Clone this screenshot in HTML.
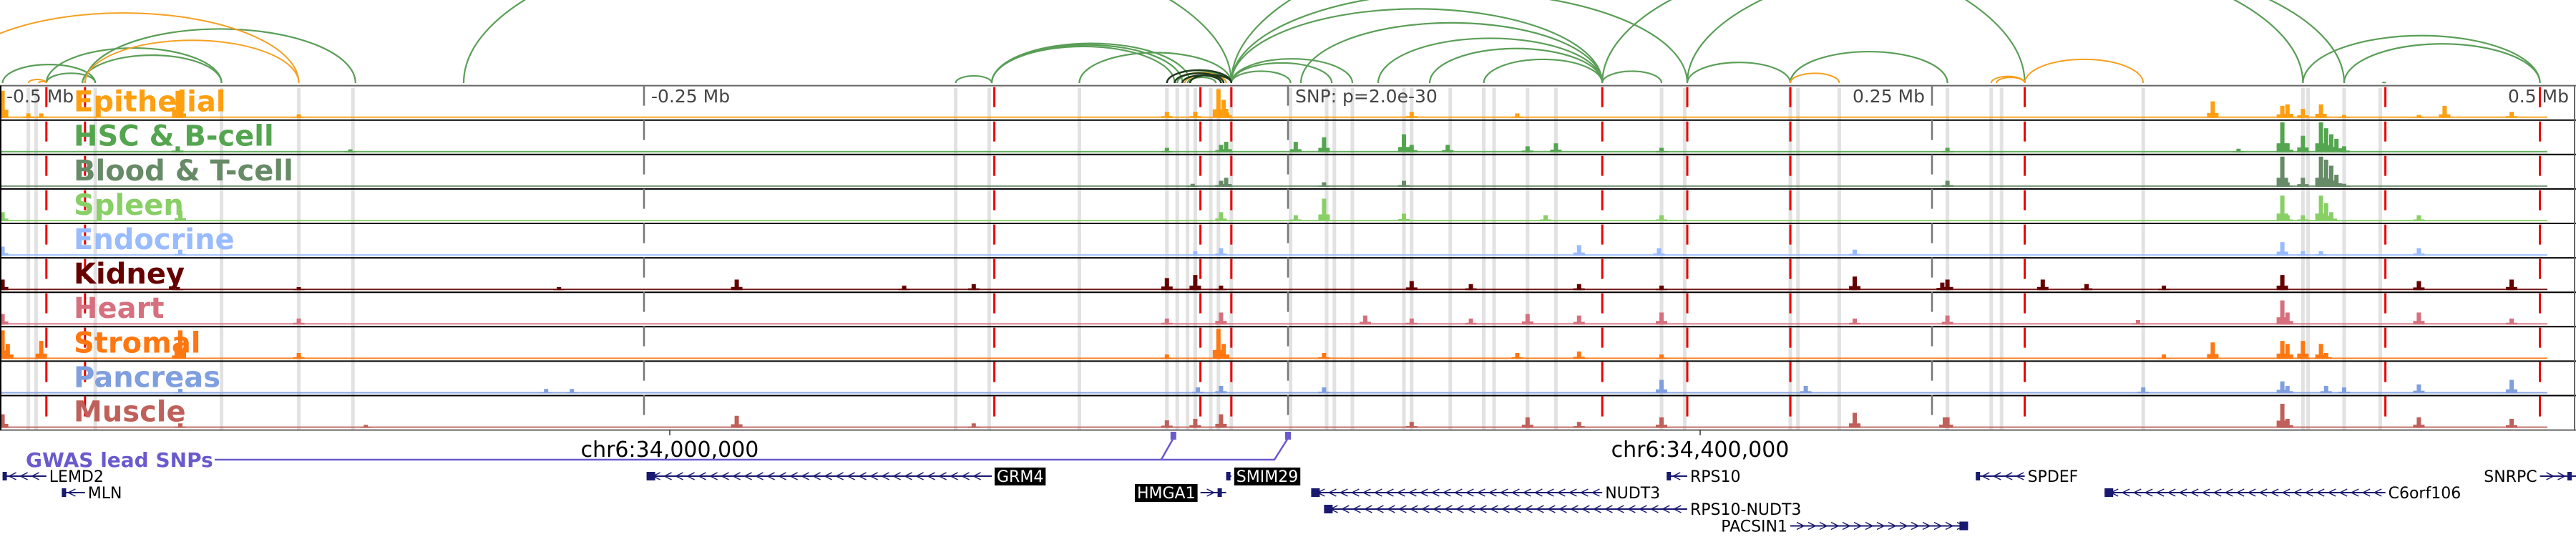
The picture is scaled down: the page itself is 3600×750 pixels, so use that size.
<!DOCTYPE html>
<html><head><meta charset="utf-8"><style>
html,body{margin:0;padding:0;background:#fff;}
svg{display:block;font-family:"DejaVu Sans","Liberation Sans",sans-serif;}
</style></head><body>
<svg id="chart" width="3600" height="750" viewBox="0 0 3600 750" xmlns="http://www.w3.org/2000/svg">
<g id="bands"></g>
<g id="arcs"></g>
<g id="tracks"></g>
<g id="vlines"></g>
<g id="labels"></g>
<g id="axis"></g>
<g id="genes"></g>
</svg>
<script>
// ---- data (positions in kb relative to lead SNP) ----
const trackNames = ["Epithelial","HSC & B-cell","Blood & T-cell","Spleen","Endocrine","Kidney","Heart","Stromal","Pancreas","Muscle"];
const trackColors = ["#ff9f10","#54a54f","#678a67","#88cf66","#99bbff","#660000","#d6707e","#ff7711","#7f9fdf","#c0605a"];
const peaksEpithelial = [[-499,0.9],[-489,0.15],[-484,0.15],[-431,0.9],[-430,0.5],[-384,0.12],[-47,0.2],[-36,0.2],[-27,0.95],[-25,0.6],[-24,0.3],[48,0.2],[89,0.15],[359,0.55],[386,0.4],[388,0.45],[394,0.3],[401,0.45],[410,0.1],[439,0.1],[449,0.4],[475,0.2]];
const peaksHSC = [[-431,0.2],[-364,0.1],[-47,0.15],[-26,0.25],[-24,0.35],[3,0.35],[14,0.5],[45,0.6],[48,0.25],[62,0.25],[93,0.2],[104,0.3],[145,0.15],[256,0.15],[369,0.12],[386,1.0],[388,0.3],[394,0.55],[401,1.0],[403,0.8],[405,0.6],[407,0.45],[410,0.2]];
const peaksBlood = [[-37,0.1],[-26,0.2],[-24,0.3],[14,0.15],[45,0.2],[256,0.2],[386,1.0],[388,0.15],[394,0.3],[401,1.0],[403,0.9],[405,0.7],[407,0.4],[410,0.1]];
const peaksSpleen = [[-499,0.3],[-430,0.35],[-26,0.3],[3,0.2],[14,0.75],[45,0.25],[100,0.2],[145,0.2],[386,0.85],[388,0.2],[394,0.2],[401,0.85],[403,0.6],[405,0.3],[439,0.2]];
const peaksEndocrine = [[-499,0.3],[-430,0.2],[-36,0.15],[-26,0.25],[113,0.35],[144,0.25],[220,0.2],[386,0.45],[394,0.15],[401,0.15],[439,0.25]];
const peaksKidney = [[-499,0.35],[-431,0.1],[-384,0.1],[-283,0.1],[-214,0.35],[-149,0.15],[-122,0.2],[-47,0.4],[-36,0.5],[-26,0.15],[48,0.3],[71,0.2],[113,0.2],[145,0.15],[220,0.45],[254,0.25],[256,0.35],[293,0.35],[310,0.2],[340,0.15],[386,0.5],[439,0.3],[475,0.35]];
const peaksHeart = [[-499,0.35],[-384,0.2],[-47,0.2],[-26,0.4],[30,0.3],[48,0.2],[71,0.2],[93,0.35],[113,0.3],[145,0.4],[220,0.2],[256,0.3],[330,0.15],[386,0.8],[388,0.4],[439,0.4],[475,0.2]];
const peaksStromal = [[-499,0.95],[-497,0.5],[-484,0.6],[-431,0.4],[-430,0.95],[-384,0.2],[-47,0.15],[-27,1.0],[-25,0.5],[14,0.2],[89,0.2],[113,0.25],[145,0.15],[340,0.15],[359,0.55],[386,0.6],[388,0.5],[394,0.6],[401,0.5],[403,0.2]];
const peaksPancreas = [[-430,0.15],[-288,0.15],[-278,0.15],[-35,0.2],[-26,0.25],[14,0.2],[145,0.45],[201,0.25],[332,0.2],[386,0.4],[388,0.25],[403,0.25],[410,0.2],[439,0.3],[475,0.45]];
const peaksMuscle = [[-499,0.45],[-430,0.15],[-358,0.1],[-214,0.4],[-122,0.15],[-47,0.25],[-36,0.3],[-26,0.45],[48,0.2],[93,0.35],[113,0.2],[145,0.35],[220,0.5],[255,0.35],[256,0.35],[386,0.8],[388,0.3],[439,0.35],[475,0.3]];
const allPeaks = [peaksEpithelial,peaksHSC,peaksBlood,peaksSpleen,peaksEndocrine,peaksKidney,peaksHeart,peaksStromal,peaksPancreas,peaksMuscle];
const snpLinesKb = [-482,-467,-114,-34,-22,122,155,195,286,426,486];
const bandKb = [-489,-486,-463,-414,-384,-363,-129,-116,-81,-47,-43,-39,-36,-30,-27,-22,1,15,18,25,45,48,63,76,80,93,104,145,154,195,198,214,256,273,277,332,394,396,410,424];
const tickKb = [-500,-250,0,250,500];
const tickLabels = ["-0.5 Mb","-0.25 Mb","SNP: p=2.0e-30","0.25 Mb","0.5 Mb"];
const coordKb = [-240,160];
const coordLabels = ["chr6:34,000,000","chr6:34,400,000"];
const gwasKb = [-44.5,0];
const arcsGreen = [[-499,-463],[-482,-463],[-468,-414],[-482,-414],[-467,-362],[-129,-115],[-115,-44],[-115,-41],[-115,-38],[-81,-22],[-47,-22],[-43,-22],[-39,-28],[-22,1],[-22,17],[-22,25],[-22,122],[-22,155],[-22,286],[5,122],[35,122],[55,122],[76,122],[122,145],[122,394],[155,195],[155,410],[195,256],[394,486],[410,486],[425,426],[-320,-22]];
const arcsOrange = [[-520,-384],[-489,-482],[-485,-482],[-467,-384],[-47,-22],[-44,-24],[-40,-25],[195,214],[273,286],[275,286],[286,332]];
const arcsDark = [[-47,-22],[-44,-25],[-41,-26],[-38,-22]];
const geneNames = ["LEMD2","MLN","GRM4","HMGA1","SMIM29","NUDT3","RPS10-NUDT3","RPS10","PACSIN1","SPDEF","C6orf106","SNRPC"];
const geneStartKb = [-499,-476,-249,-34,-24,9,14,147,195,267,317,486];
const geneEndKb = [-482,-467,-115,-24,-22,122,155,155,264,286,426,500];
const geneRow = [0,1,0,1,0,1,2,0,3,0,1,0];
const geneStrand = [-1,-1,-1,1,-1,-1,-1,-1,1,-1,-1,1];
const geneHighlight = [0,0,1,1,1,0,0,0,0,0,0,0];
const geneLabelSide = [1,1,1,-1,1,1,1,1,-1,1,1,-1];
</script>
<script>
const NS="http://www.w3.org/2000/svg";
const X = kb => 1800 + kb*3.6;
const T0 = 119.6, TH = 48.1, AB = 116;
function mk(tag, attrs, parent){const e=document.createElementNS(NS,tag);for(const k in attrs)e.setAttribute(k,attrs[k]);parent.appendChild(e);return e;}
const gB=document.getElementById('bands'),gA=document.getElementById('arcs'),gT=document.getElementById('tracks'),gV=document.getElementById('vlines'),gL=document.getElementById('labels'),gX=document.getElementById('axis'),gG=document.getElementById('genes');

bandKb.forEach(k=>{
  const r=mk('rect',{x:X(k)-2.5,y:T0+3,width:5,height:TH*10-3,fill:'#e2e2e2'},gB);
  
  
});

function drawArcs(list,color,w){
  list.forEach(a=>{
    const x1=X(a[0]),x2=X(a[1]),span=x2-x1,h=span*0.2;
    const p=mk('path',{d:`M${x1},${AB} A${span/2},${h} 0 0 1 ${x2},${AB}`,fill:'none',stroke:color,'stroke-width':w},gA);
    
    
  });
}
drawArcs(arcsGreen,'#5a9e57',2.2);
drawArcs(arcsOrange,'#f5a020',2);
drawArcs(arcsDark,'#1e3a1e',2.5);

allPeaks.forEach((peaks,i)=>{
  const top=T0+i*TH, base=top+TH-3, col=trackColors[i];
  const g=mk('g',{},gT);
  
  
  mk('rect',{x:0,y:base-2,width:3560,height:2,fill:col,opacity:0.9},g);
  peaks.forEach(p=>{
    const h=p[1]*(TH-6);
    const r=mk('rect',{x:X(p[0])-3,y:base-h,width:6,height:h,fill:col},g);
    
    
    mk('rect',{x:X(p[0])-8,y:base-h*0.3,width:16,height:h*0.3,fill:col},g);
  });
  const ln=mk('line',{x1:0,x2:3600,y1:top,y2:top,stroke:i==0?'#666':'#000','stroke-width':2},g);
  
  
});
mk('line',{x1:0,x2:3600,y1:T0+10*TH,y2:T0+10*TH,stroke:'#666','stroke-width':2},gT);
mk('line',{x1:1,x2:1,y1:T0,y2:T0+10*TH,stroke:'#000','stroke-width':2},gT);
mk('line',{x1:3598,x2:3598,y1:T0,y2:T0+10*TH,stroke:'#666','stroke-width':2},gT);

tickKb.forEach((k,i)=>{
  const x=X(k);
  if(i>0&&i<4){const l=mk('line',{x1:x,x2:x,y1:T0,y2:T0+10*TH,stroke:'#777','stroke-width':2.5,'stroke-dasharray':'28,20'},gV);
  
  }
  let anchor='start',tx=x+10;
  if(i==0)tx=9;
  if(i==3){anchor='end';tx=x-10;}
  if(i==4){anchor='end';tx=3590;}
  const t=mk('text',{x:tx,y:143,'font-size':25,fill:'#444','text-anchor':anchor},gL);
  t.textContent=tickLabels[i];
  
  
});
snpLinesKb.forEach(k=>{
  const l=mk('line',{x1:X(k),x2:X(k),y1:T0,y2:T0+10*TH,stroke:'#ee0000','stroke-width':3,'stroke-dasharray':'28,20','stroke-dashoffset':-2},gV);
  
  
});
trackNames.forEach((n,i)=>{
  const t=mk('text',{x:103,y:T0+i*TH+36,'font-size':40,'font-weight':'bold',fill:trackColors[i]},gL);
  t.textContent=n;
  
  
});

coordKb.forEach((k,i)=>{
  const x=X(k);
  mk('line',{x1:x,x2:x,y1:600,y2:608,stroke:'#333','stroke-width':1.5},gX);
  const t=mk('text',{x:x,y:638,'font-size':30,fill:'#000','text-anchor':'middle'},gX);
  t.textContent=coordLabels[i];
  
  
});

const gw=mk('text',{x:36,y:652,'font-size':28,'font-weight':'bold',fill:'#6a5acd'},gX);
gw.textContent='GWAS lead SNPs';


const s1=X(gwasKb[0]),s2=X(gwasKb[1]);
mk('path',{d:`M300,642 L${s1-17},642 L${s1},612 M${s1-17},642 L${s2-19},642 L${s2},612`,fill:'none',stroke:'#6a5acd','stroke-width':2.5},gX);
gwasKb.forEach(k=>{
  const r=mk('rect',{x:X(k)-4,y:603,width:8,height:11,fill:'#6a5acd'},gX);
  
  
});

const rowY=[665,688,711,734.5];
geneNames.forEach((n,i)=>{
  const x1=X(geneStartKb[i]),x2=Math.min(X(geneEndKb[i]),3600),y=rowY[geneRow[i]];
  const g=mk('g',{},gG);
  
  
  mk('line',{x1:x1,x2:x2,y1:y,y2:y,stroke:'#191970','stroke-width':2},g);
  for(let x=x1+14;x<x2-6;x+=16){
    const d=geneStrand[i]*5;
    mk('path',{d:`M${x-d},${y-5} L${x+d},${y} L${x-d},${y+5}`,fill:'none',stroke:'#191970','stroke-width':1.5},g);
  }
  const bx=geneStrand[i]<0?x1:x2-12;
  mk('rect',{x:bx,y:y-6,width:geneEndKb[i]-geneStartKb[i]>60?12:6,height:12,fill:'#191970'},g);
  const side=geneLabelSide[i];
  const hl=geneHighlight[i];
  const tx=side>0?x2+4+(hl?3:0):x1-4-(hl?3:0);
  const bg=hl?mk('rect',{y:y-12,height:25,fill:'#000'},g):null;
  const t=mk('text',{x:tx,y:y+8,'font-size':22,fill:hl?'#fff':'#000','text-anchor':side>0?'start':'end'},g);
  t.textContent=n;
  
  
  if(bg){const w=t.getComputedTextLength()+6;bg.setAttribute('width',w);bg.setAttribute('x',side>0?tx-3:tx-w+3);}
});
</script>
</body></html>
